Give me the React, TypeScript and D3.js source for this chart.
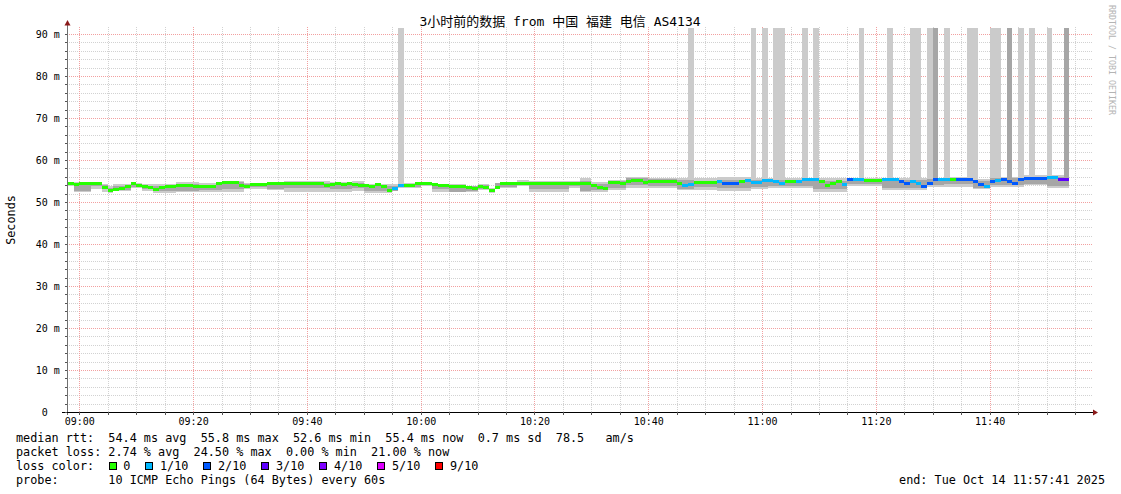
import React from 'react';
import * as d3 from 'd3';

const W = 1121;
const H = 494;

const title = '3小时前的数据 from 中国 福建 电信 AS4134';
const yAxisTitle = 'Seconds';
const watermark = 'RRDTOOL / TOBI OETIKER';

const startTime = new Date(2025, 9, 14, 8, 57, 50);
const endTime = new Date(2025, 9, 14, 11, 58, 10);
const firstBin = new Date(2025, 9, 14, 8, 58, 0);

const yTicks = [0, 10, 20, 30, 40, 50, 60, 70, 80, 90];
const yTickLabels = [' 0', '10 m', '20 m', '30 m', '40 m', '50 m', '60 m', '70 m', '80 m', '90 m'];
const xTickLabels = ['09:00', '09:20', '09:40', '10:00', '10:20', '10:40', '11:00', '11:20', '11:40'];

// median rtt per minute (ms)
const median = [
  54.3,54.1,54.3,54.3,54.4,54.4,53.4,52.7,53.0,53.3,
  53.7,54.3,53.9,53.6,53.5,53.0,53.5,53.8,53.8,54.0,
  54.0,53.9,53.7,53.7,53.8,53.8,54.3,54.7,54.7,54.6,
  54.0,53.7,54.1,54.1,54.2,54.3,54.3,54.3,54.4,54.5,
  54.5,54.5,54.3,54.3,54.3,54.0,54.2,54.3,54.2,54.3,
  54.2,54.0,53.9,53.6,54.1,53.8,52.8,53.2,54.0,53.9,
  54.0,54.3,54.5,54.5,54.1,54.0,54.0,53.8,53.8,53.8,
  53.4,53.3,53.8,53.5,52.8,53.5,54.3,54.4,54.4,54.3,
  54.3,54.3,54.3,54.4,54.4,54.4,54.3,54.3,54.3,54.3,
  54.4,54.4,54.0,53.5,53.1,54.6,54.6,54.4,54.8,55.2,
  55.2,54.7,54.8,54.8,54.8,54.8,54.8,54.4,54.0,54.1,
  54.6,54.6,54.6,54.6,55.0,54.4,54.4,54.4,55.0,55.1,
  54.7,54.7,55.1,55.1,55.0,54.4,55.0,55.0,55.0,55.4,
  55.4,55.4,54.8,53.9,54.4,54.8,54.1,55.3,55.3,55.3,
  55.2,55.2,55.2,55.3,55.3,55.3,55.0,54.4,55.0,54.4,
  53.6,54.4,55.4,55.4,55.4,55.4,55.4,55.4,55.4,55.0,
  54.1,53.8,54.8,55.1,55.4,55.0,54.4,55.4,55.5,55.5,
  55.5,55.5,55.9,55.9,55.4,55.4,
];

// lost pings out of 10 per minute
const lossTenths = [
  0,0,0,0,0,0,0,0,0,0,
  0,0,0,0,0,0,0,0,0,0,
  0,0,0,0,0,0,0,0,0,0,
  0,0,0,0,0,0,0,0,0,0,
  0,0,0,0,0,0,0,0,0,0,
  0,0,0,0,0,0,0,1,1,0,
  0,0,0,0,0,0,0,0,0,0,
  0,0,0,0,0,0,0,0,0,0,
  0,0,0,0,0,0,0,0,0,0,
  0,0,0,0,0,0,0,0,0,0,
  0,0,0,0,0,0,0,0,1,1,
  0,0,0,0,1,2,2,2,0,1,
  1,1,1,1,1,1,0,0,1,1,
  1,1,0,0,0,0,1,2,1,1,
  0,0,0,1,1,1,2,2,1,1,
  2,2,2,1,1,0,2,2,2,2,
  2,1,2,1,2,2,2,2,2,2,
  2,2,1,1,3,3,
];

// outer smoke (ms); 100 = beyond the top of the graph
const lightHi = [
  54.8,54.7,54.7,54.7,54.8,54.8,54.2,53.7,54.4,54.4,
  54.4,54.5,54.5,54.3,54.3,54.3,54.3,54.3,54.3,54.8,
  54.8,54.8,54.8,54.5,54.5,54.5,54.5,55.1,55.1,55.1,
  55.1,54.5,54.5,54.5,54.5,54.6,54.6,54.6,54.9,54.9,
  54.9,54.9,54.9,54.9,54.9,54.9,54.8,54.8,54.8,54.8,
  54.9,54.9,54.4,54.4,54.4,54.3,54.3,54.3,100,54.5,
  54.5,54.5,54.8,54.8,54.4,54.4,54.4,54.2,54.2,54.2,
  53.9,53.9,54.3,54.3,53.4,54.6,54.6,54.6,54.6,55.3,
  55.3,54.9,54.9,54.9,54.9,54.9,54.9,54.9,55.1,55.1,
  55.6,55.6,54.8,54.8,54.8,55.2,55.2,55.2,56.0,56.0,
  56.0,56.0,55.8,55.8,55.8,55.8,55.8,55.8,55.8,100,
  55.6,55.6,55.6,55.6,56.0,56.0,56.0,56.0,56.0,56.0,
  100,55.6,100,55.8,100,100,55.8,55.8,55.8,100,
  55.8,100,55.6,55.6,55.6,55.6,55.6,55.8,55.8,100,
  55.8,55.8,55.8,55.8,100,55.8,55.8,55.8,100,100,
  55.8,100,100,55.8,100,56.0,56.0,56.0,100,100,
  55.5,55.5,100,100,56.0,100,56.0,100,56.4,100,
  56.4,56.4,100,56.4,56.4,100,
];
const lightLo = [
  53.7,52.4,52.4,52.4,53.2,53.2,52.5,52.1,52.7,52.7,
  52.7,53.3,53.3,52.7,52.7,52.1,52.1,52.1,52.1,52.5,
  52.5,52.5,52.5,52.4,52.4,52.4,52.4,52.4,52.4,52.4,
  52.4,53.0,53.0,53.0,53.0,52.9,52.9,52.9,52.5,52.5,
  52.5,52.5,52.5,52.5,52.5,52.5,52.4,52.4,52.4,52.4,
  52.7,52.7,52.2,52.2,52.2,52.2,52.2,52.6,53.4,53.3,
  53.3,53.3,53.7,53.7,52.4,52.4,52.4,52.4,52.4,52.4,
  52.4,52.4,52.9,52.9,52.1,53.3,53.3,53.3,53.3,53.7,
  53.7,52.4,52.4,52.4,52.4,52.4,52.4,52.4,53.3,53.3,
  52.3,52.3,52.5,52.5,52.5,52.9,52.9,52.9,53.3,53.3,
  53.3,53.3,53.3,53.3,53.3,53.3,53.3,52.9,52.9,52.9,
  52.9,52.9,52.9,52.9,52.6,52.6,52.6,52.6,52.6,52.6,
  53.2,53.2,53.2,53.3,53.3,53.3,53.3,53.3,53.3,53.3,
  53.3,52.5,52.5,52.5,52.5,52.5,52.5,53.9,53.9,53.9,
  53.9,53.9,53.9,52.9,52.9,52.9,52.9,52.9,52.9,52.9,
  52.9,53.6,53.6,53.6,53.6,53.6,53.6,53.6,53.6,53.1,
  53.1,53.1,53.6,53.6,53.6,53.6,53.6,53.6,54.0,54.0,
  54.0,54.0,53.4,53.4,53.4,53.4,
];
// inner smoke (ms)
const midHi = [
  54.5,54.3,54.3,54.3,54.5,54.5,54.0,53.3,53.8,53.8,
  53.8,54.4,54.4,53.9,53.9,53.9,53.9,53.9,53.9,54.2,
  54.2,54.2,54.2,54.0,54.0,54.0,54.0,54.8,54.8,54.8,
  54.8,54.3,54.3,54.3,54.3,54.4,54.4,54.4,54.6,54.6,
  54.6,54.6,54.6,54.6,54.6,54.6,54.5,54.5,54.5,54.5,
  54.5,54.5,54.0,54.0,54.0,53.9,53.9,53.9,54.3,54.3,
  54.3,54.3,54.6,54.6,54.2,54.2,54.2,54.0,54.0,54.0,
  53.7,53.7,54.0,54.0,53.2,54.5,54.5,54.5,54.5,54.8,
  54.8,54.6,54.6,54.6,54.6,54.6,54.6,54.6,54.7,54.7,
  55.0,55.0,54.4,54.4,54.4,54.9,54.9,54.9,55.6,55.6,
  55.6,55.6,55.5,55.5,55.5,55.5,55.5,55.3,55.3,55.3,
  55.0,55.0,55.0,55.0,55.3,55.3,55.3,55.3,55.3,55.3,
  55.2,55.2,55.2,55.3,55.3,55.3,55.3,55.3,55.3,55.5,
  55.5,55.0,55.0,55.0,55.0,55.0,55.0,55.5,55.5,55.5,
  55.5,55.5,55.5,55.3,55.3,55.3,55.3,55.3,55.3,55.3,
  55.3,55.5,100,55.5,55.5,55.5,55.5,55.5,55.5,55.0,
  55.0,55.0,55.6,55.6,55.6,100,55.6,55.6,55.9,55.9,
  55.9,55.9,56.0,56.0,56.0,100,
];
const midLo = [
  54.0,52.7,52.7,52.7,53.7,53.7,53.0,52.4,52.9,52.9,
  52.9,53.6,53.6,53.0,53.0,52.7,52.7,52.7,52.7,52.7,
  52.7,52.7,52.7,52.8,52.8,52.8,52.8,53.2,53.2,53.2,
  53.2,53.5,53.5,53.5,53.5,53.1,53.1,53.1,53.4,53.4,
  53.4,53.4,53.4,53.4,53.4,53.4,53.2,53.2,53.2,53.2,
  53.3,53.3,52.6,52.6,52.6,52.7,52.7,52.7,53.6,53.6,
  53.6,53.6,54.0,54.0,53.0,53.0,53.0,52.5,52.5,52.5,
  52.6,52.6,53.2,53.2,52.3,53.6,53.6,53.6,53.6,54.0,
  54.0,53.2,53.2,53.2,53.2,53.2,53.2,53.2,53.8,53.8,
  52.6,52.6,52.9,52.9,52.9,53.4,53.4,53.4,54.0,54.0,
  54.0,54.0,53.9,53.9,53.9,53.9,53.9,53.2,53.2,53.2,
  53.6,53.6,53.6,53.6,53.3,53.3,53.3,53.3,53.3,53.3,
  53.6,53.6,53.6,53.9,53.9,53.9,53.9,53.9,53.9,53.9,
  53.9,53.2,53.2,53.2,53.2,53.2,53.2,54.3,54.3,54.3,
  54.3,54.3,54.3,53.4,53.4,53.4,53.4,53.4,53.4,53.4,
  53.4,54.0,54.0,54.0,54.2,54.2,54.2,54.2,54.2,53.4,
  53.4,53.4,54.1,54.1,54.1,54.1,54.1,54.1,54.4,54.4,
  54.4,54.4,53.8,53.8,53.8,53.8,
];

const lossColors = ['#26ff00', '#00b8ff', '#0059ff', '#5e00ff', '#7e00ff', '#dd00ff', '#ff0000'];
const lossLevels = [0, 1, 2, 3, 4, 5, 9];
const lossLabels = ['0', '1/10', '2/10', '3/10', '4/10', '5/10', '9/10'];

const legendRtt = 'median rtt:  54.4 ms avg  55.8 ms max  52.6 ms min  55.4 ms now  0.7 ms sd  78.5   am/s';
const legendLoss = 'packet loss: 2.74 % avg  24.50 % max  0.00 % min  21.00 % now';
const legendLossColor = 'loss color:';
const legendProbe = 'probe:       10 ICMP Echo Pings (64 Bytes) every 60s';
const legendEnd = 'end: Tue Oct 14 11:57:41 2025';

const MONO = '"DejaVu Sans Mono", "Noto Sans CJK SC", monospace';

const PLOT = { left: 67, right: 1093, top: 28, bottom: 412 };

export default function App() {
  const x = d3.scaleTime().domain([startTime, endTime]).range([PLOT.left, PLOT.right]);
  const y = d3.scaleLinear().domain([0, (PLOT.bottom - PLOT.top) / 4.2]).range([PLOT.bottom, PLOT.top]);
  const yMax = y.domain()[1];
  const cy = (v: number) => y(Math.min(v, yMax));

  const parseHM = d3.timeParse('%Y-%m-%d %H:%M');
  const xTickDates = xTickLabels.map((l) => parseHM('2025-10-14 ' + l) as Date);
  const minorX = d3.timeMinute.every(5)!.range(startTime, endTime);
  const minorY = d3.range(2, yMax, 2).filter((v) => v % 10 !== 0);

  const bins = median.map((m, i) => {
    const t0 = d3.timeMinute.offset(firstBin, i);
    const t1 = d3.timeMinute.offset(firstBin, i + 1);
    return { x0: x(t0), x1: x(t1), m, i };
  });

  const lossColor = (l: number) => {
    const idx = lossLevels.findIndex((lv) => lv >= l);
    return lossColors[idx < 0 ? lossColors.length - 1 : idx];
  };

  // legend box layout
  const charW = 7.1;
  let lx = 108.7;
  const legendBoxes = lossLabels.map((lab, k) => {
    const bx = lx;
    const tx = bx + 14.6;
    lx = tx + lab.length * charW + 15;
    return { bx, tx, lab, color: lossColors[k] };
  });

  return (
    <svg
      width={W}
      height={H}
      style={{ position: 'absolute', left: 0, top: 0, background: '#fff' }}
      xmlns="http://www.w3.org/2000/svg"
    >
      <rect x={0} y={0} width={W} height={H} fill="#ffffff" />

      {/* minor grid */}
      <g stroke="#d2d2d2" strokeWidth={1} strokeDasharray="1,1" shapeRendering="crispEdges">
        {minorY.map((v) => (
          <line key={'my' + v} x1={PLOT.left} x2={PLOT.right} y1={Math.round(y(v)) + 0.5} y2={Math.round(y(v)) + 0.5} />
        ))}
        {minorX
          .filter((t) => t.getMinutes() % 20 !== 0)
          .map((t) => (
            <line key={'mx' + t.getTime()} x1={Math.round(x(t)) + 0.5} x2={Math.round(x(t)) + 0.5} y1={PLOT.top - 1} y2={PLOT.bottom} />
          ))}
      </g>
      {/* major grid */}
      <g stroke="#f2a0a0" strokeWidth={1} strokeDasharray="1,1" shapeRendering="crispEdges">
        {yTicks
          .filter((v) => v > 0)
          .map((v) => (
            <line key={'My' + v} x1={PLOT.left} x2={PLOT.right} y1={Math.round(y(v)) + 0.5} y2={Math.round(y(v)) + 0.5} />
          ))}
        {xTickDates.map((t) => (
          <line key={'Mx' + t.getTime()} x1={Math.round(x(t)) + 0.5} x2={Math.round(x(t)) + 0.5} y1={PLOT.top - 1} y2={PLOT.bottom} />
        ))}
      </g>

      {/* smoke */}
      <g shapeRendering="crispEdges">
        {bins.map((b) => (
          <rect key={'l' + b.i} x={b.x0} width={b.x1 - b.x0} y={cy(lightHi[b.i])} height={cy(lightLo[b.i]) - cy(lightHi[b.i])} fill="#cbcbcb" />
        ))}
        {bins.map((b) => (
          <rect key={'d' + b.i} x={b.x0} width={b.x1 - b.x0} y={cy(midHi[b.i])} height={cy(midLo[b.i]) - cy(midHi[b.i])} fill="#a6a6a6" />
        ))}
      </g>

      {/* median line coloured by loss */}
      <g shapeRendering="crispEdges">
        {bins.map((b) => (
          <rect key={'m' + b.i} x={b.x0} width={b.x1 - b.x0} y={y(b.m) - 1.5} height={3} fill={lossColor(lossTenths[b.i])} />
        ))}
      </g>

      {/* axes */}
      <line x1={PLOT.left + 0.5} x2={PLOT.left + 0.5} y1={PLOT.bottom + 3} y2={24} stroke="#707070" strokeWidth={1} shapeRendering="crispEdges" />
      <line x1={62} x2={PLOT.right} y1={PLOT.bottom + 0.5} y2={PLOT.bottom + 0.5} stroke="#000" strokeWidth={1} shapeRendering="crispEdges" />
      <polygon points={`${PLOT.left + 0.5},20 ${PLOT.left - 2.5},25.5 ${PLOT.left + 3.5},25.5`} fill="#8b1a1a" />
      <polygon points={`${PLOT.right + 5},${PLOT.bottom + 0.5} ${PLOT.right},${PLOT.bottom - 2.5} ${PLOT.right},${PLOT.bottom + 3.5}`} fill="#8b1a1a" />

      {/* ticks */}
      <g stroke="#555" strokeWidth={1} shapeRendering="crispEdges">
        {yTicks.concat(minorY).map((v) => (
          <line key={'ty' + v} x1={PLOT.left - 2} x2={PLOT.left} y1={Math.round(y(v)) + 0.5} y2={Math.round(y(v)) + 0.5} />
        ))}
        {minorX.map((t) => (
          <line key={'tx' + t.getTime()} x1={Math.round(x(t)) + 0.5} x2={Math.round(x(t)) + 0.5} y1={PLOT.bottom} y2={PLOT.bottom + 3} />
        ))}
      </g>

      {/* tick labels */}
      <g fontFamily={MONO} fontSize={10} fill="#000">
        {yTicks.map((v, k) => (
          <text key={'yl' + v} x={35.8} y={y(v) + 3.5} xmlSpace="preserve">
            {yTickLabels[k]}
          </text>
        ))}
        {xTickDates.map((t, k) => (
          <text key={'xl' + k} x={x(t) + 0.5} y={424.5} textAnchor="middle">
            {xTickLabels[k]}
          </text>
        ))}
      </g>

      {/* title */}
      <text x={560} y={26} textAnchor="middle" fontFamily={MONO} fontSize={13} fill="#000">
        {title}
      </text>

      {/* y axis title */}
      <text transform="translate(15,220) rotate(-90)" textAnchor="middle" fontFamily={MONO} fontSize={11.8} fill="#000">
        {yAxisTitle}
      </text>

      {/* watermark */}
      <text transform="translate(1108.5,5) rotate(90)" fontFamily={MONO} fontSize={9} fill="#b4b4b4" textLength={110} lengthAdjust="spacingAndGlyphs">
        {watermark}
      </text>

      {/* legend */}
      <g fontFamily={MONO} fontSize={11.8} fill="#000">
        <text x={16} y={442} xmlSpace="preserve">{legendRtt}</text>
        <text x={16} y={456} xmlSpace="preserve">{legendLoss}</text>
        <text x={16} y={470} xmlSpace="preserve">{legendLossColor}</text>
        {legendBoxes.map((b) => (
          <g key={'lb' + b.lab}>
            <rect x={Math.round(b.bx) + 0.5} y={462.5} width={7} height={7} fill={b.color} stroke="#000" strokeWidth={1} shapeRendering="crispEdges" />
            <text x={b.tx} y={470}>{b.lab}</text>
          </g>
        ))}
        <text x={16} y={484} xmlSpace="preserve">{legendProbe}</text>
        <text x={1105} y={484} textAnchor="end" xmlSpace="preserve">{legendEnd}</text>
      </g>
    </svg>
  );
}
